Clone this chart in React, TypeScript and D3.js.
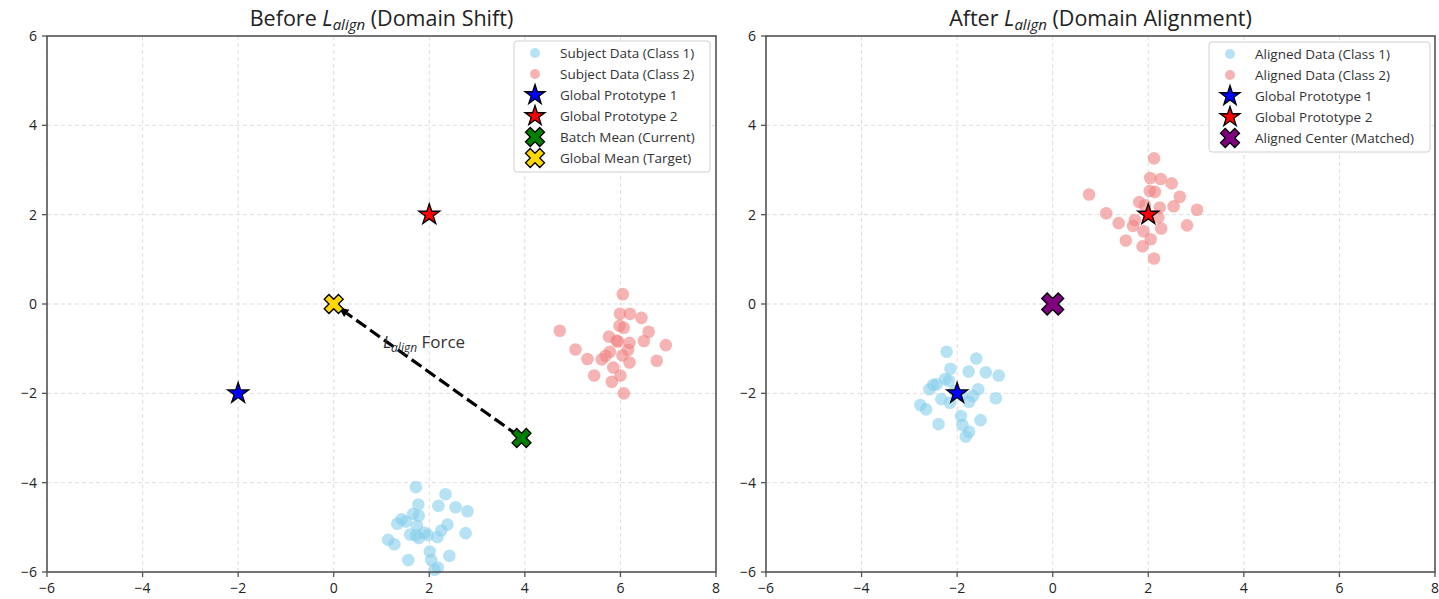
import * as d3 from "d3";

// ---- data ----
const TICKS_X = [-6, -4, -2, 0, 2, 4, 6, 8];
const TICKS_Y = [-6, -4, -2, 0, 2, 4, 6];

const beforeClass1: [number, number][] = [
  [1.72, -4.1], [2.34, -4.26], [1.77, -4.49], [2.19, -4.52], [2.55, -4.55],
  [2.8, -4.64], [1.66, -4.7], [1.78, -4.74], [1.42, -4.82], [1.51, -4.87],
  [1.33, -4.92], [1.74, -4.97], [2.38, -4.94], [2.25, -5.07], [2.76, -5.13],
  [1.6, -5.16], [1.72, -5.18], [1.9, -5.12], [1.97, -5.17], [1.78, -5.24],
  [2.17, -5.22], [1.14, -5.28], [1.27, -5.38], [2.01, -5.54], [2.42, -5.64],
  [1.56, -5.73], [2.04, -5.73], [2.18, -5.9], [2.11, -5.95],
];

const beforeClass2: [number, number][] = [
  [6.05, 0.22], [5.99, -0.22], [6.2, -0.22], [6.44, -0.31], [4.73, -0.6],
  [5.98, -0.49], [6.07, -0.53], [6.59, -0.62], [5.76, -0.73], [5.92, -0.82],
  [5.95, -0.84], [6.19, -0.87], [6.49, -0.83], [6.95, -0.92], [5.06, -1.02],
  [5.78, -1.07], [6.16, -1.03], [6.04, -1.15], [5.69, -1.16], [5.61, -1.24],
  [5.31, -1.23], [6.19, -1.31], [6.76, -1.27], [5.85, -1.42], [5.45, -1.6],
  [6.0, -1.6], [5.82, -1.74], [6.07, -2.0],
];

const afterClass1: [number, number][] = [
  [-2.22, -1.07], [-1.6, -1.22], [-2.14, -1.45], [-1.76, -1.51], [-1.4, -1.53],
  [-1.13, -1.6], [-2.25, -1.68], [-2.17, -1.72], [-2.43, -1.8], [-2.5, -1.81],
  [-2.58, -1.91], [-1.56, -1.91], [-1.67, -2.06], [-2.33, -2.13], [-2.15, -2.21],
  [-1.75, -2.19], [-1.19, -2.11], [-2.77, -2.26], [-2.65, -2.36], [-1.92, -2.51],
  [-1.51, -2.6], [-2.39, -2.69], [-1.89, -2.71], [-1.75, -2.86], [-1.82, -2.97],
  [-2.05, -1.95], [-1.9, -2.05],
];

const afterClass2: [number, number][] = [
  [2.12, 3.26], [2.04, 2.82], [2.26, 2.8], [2.49, 2.7], [0.76, 2.45],
  [2.03, 2.53], [2.14, 2.51], [2.66, 2.4], [1.81, 2.28], [2.53, 2.19],
  [3.02, 2.11], [1.12, 2.03], [2.24, 2.16], [1.93, 2.21], [2.21, 1.94],
  [1.38, 1.81], [1.72, 1.88], [1.68, 1.75], [2.27, 1.69], [2.81, 1.76],
  [1.9, 1.63], [2.05, 1.45], [1.53, 1.42], [1.88, 1.29], [2.12, 1.02],
];

const proto1: [number, number] = [-2, -2];
const proto2: [number, number] = [2, 2];
const batchMean: [number, number] = [3.93, -3.0];
const globalMean: [number, number] = [0, 0];
const alignedCenter: [number, number] = [0, 0];

// ---- styling ----
const FONT = "'Open Sans', 'DejaVu Sans', sans-serif";
const C1 = "#87ceeb";
const C2 = "#f08080";
const FRAME = "#555";
const PT_R = 6.3;

const PANEL = {
  top: 36,
  bottom: 572,
  width: 669,
};

type XY = [number, number];
type Scale = d3.ScaleLinear<number, number>;

const X_PATH: XY[] = [
  [-1, -2], [0, -1], [1, -2], [2, -1], [1, 0], [2, 1],
  [1, 2], [0, 1], [-1, 2], [-2, 1], [-1, 0], [-2, -1],
];

function xMarkerPath(size: number) {
  return (
    "M" + X_PATH.map(([a, b]) => `${(a / 4) * size},${(b / 4) * size}`).join("L") + "Z"
  );
}

function starPath(size: number) {
  const pts: string[] = [];
  const outer = size / 2;
  const inner = outer * 0.381966;
  for (let i = 0; i < 10; i++) {
    const r = i % 2 === 0 ? outer : inner;
    const a = (i * Math.PI) / 5 - Math.PI / 2;
    pts.push(`${r * Math.cos(a)},${r * Math.sin(a)}`);
  }
  return "M" + pts.join("L") + "Z";
}

function Star({ x, y, color, size = 22 }: { x: number; y: number; color: string; size?: number }) {
  return (
    <path
      d={starPath(size)}
      transform={`translate(${x},${y})`}
      fill={color}
      stroke="#000"
      strokeWidth={1.3}
      strokeLinejoin="miter"
    />
  );
}

function XMark({ x, y, color, size = 19 }: { x: number; y: number; color: string; size?: number }) {
  return (
    <path
      d={xMarkerPath(size)}
      transform={`translate(${x},${y})`}
      fill={color}
      stroke="#000"
      strokeWidth={1.3}
    />
  );
}

function fmt(v: number) {
  return v < 0 ? "\u2212" + Math.abs(v) : String(v);
}

function Axes({ xScale, yScale }: { xScale: Scale; yScale: Scale }) {
  const [x0, x1] = xScale.range();
  const [y0, y1] = yScale.range();
  return (
    <g>
      {TICKS_X.map((t) => (
        <line key={"gx" + t} x1={xScale(t)} x2={xScale(t)} y1={y1} y2={y0}
          stroke="#d4d4d4" strokeWidth={0.8} strokeDasharray="4,3" />
      ))}
      {TICKS_Y.map((t) => (
        <line key={"gy" + t} x1={x0} x2={x1} y1={yScale(t)} y2={yScale(t)}
          stroke="#d4d4d4" strokeWidth={0.8} strokeDasharray="4,3" />
      ))}
    </g>
  );
}

function Frame({ xScale, yScale }: { xScale: Scale; yScale: Scale }) {
  const [x0, x1] = xScale.range();
  const [y0, y1] = yScale.range();
  return (
    <g>
      <rect x={x0} y={y1} width={x1 - x0} height={y0 - y1} fill="none" stroke={FRAME} strokeWidth={1.6} />
      {TICKS_X.map((t) => (
        <g key={"tx" + t}>
          <line x1={xScale(t)} x2={xScale(t)} y1={y0} y2={y0 + 5} stroke={FRAME} strokeWidth={1.3} />
          <text x={xScale(t)} y={y0 + 21} fontSize={14} fontFamily={FONT} fill="#222" textAnchor="middle">
            {fmt(t)}
          </text>
        </g>
      ))}
      {TICKS_Y.map((t) => (
        <g key={"ty" + t}>
          <line x1={x0 - 5} x2={x0} y1={yScale(t)} y2={yScale(t)} stroke={FRAME} strokeWidth={1.3} />
          <text x={x0 - 10} y={yScale(t) + 5} fontSize={14} fontFamily={FONT} fill="#222" textAnchor="end">
            {fmt(t)}
          </text>
        </g>
      ))}
    </g>
  );
}

function Title({ x, before, after }: { x: number; before: string; after: string }) {
  return (
    <text x={x} y={26} fontSize={21.5} fontFamily={FONT} fill="#222" textAnchor="middle">
      <tspan>{before} </tspan>
      <tspan fontStyle="italic">L</tspan>
      <tspan fontStyle="italic" fontSize={15} dy={4}>align</tspan>
      <tspan dy={-4}> {after}</tspan>
    </text>
  );
}

type LegendItem = { label: string; kind: "c1" | "c2" | "star" | "x"; color: string };

function Legend({ x, y, w, items }: { x: number; y: number; w: number; items: LegendItem[] }) {
  const rowH = 21;
  const h = items.length * rowH + 5;
  return (
    <g>
      <rect x={x} y={y} width={w} height={h} rx={3} fill="#fff" fillOpacity={0.85} stroke="#d0d0d0" strokeWidth={1} />
      {items.map((it, i) => {
        const cy = y + 12 + i * rowH;
        const mx = x + 21;
        let mark;
        if (it.kind === "c1" || it.kind === "c2") {
          mark = <circle cx={mx} cy={cy} r={5} fill={it.color} fillOpacity={0.6} />;
        } else if (it.kind === "star") {
          mark = <Star x={mx} y={cy} color={it.color} size={21} />;
        } else {
          mark = <XMark x={mx} y={cy} color={it.color} size={19} />;
        }
        return (
          <g key={i}>
            {mark}
            <text x={x + 46} y={cy + 4.5} fontSize={13.5} fontFamily={FONT} fill="#333">
              {it.label}
            </text>
          </g>
        );
      })}
    </g>
  );
}

function Points({ data, color, xScale, yScale }: { data: XY[]; color: string; xScale: Scale; yScale: Scale }) {
  return (
    <g>
      {data.map((d, i) => (
        <circle key={i} cx={xScale(d[0])} cy={yScale(d[1])} r={PT_R} fill={color} fillOpacity={0.6} />
      ))}
    </g>
  );
}

export default function App() {
  const yScale = d3.scaleLinear().domain([-6, 6]).range([PANEL.bottom, PANEL.top]);
  const xL = d3.scaleLinear().domain([-6, 8]).range([47, 47 + PANEL.width]);
  const xR = d3.scaleLinear().domain([-6, 8]).range([766, 766 + PANEL.width]);

  // arrow from batch mean to global mean
  const ax0 = xL(batchMean[0]);
  const ay0 = yScale(batchMean[1]);
  const ax1 = xL(globalMean[0]);
  const ay1 = yScale(globalMean[1]);
  const len = Math.hypot(ax1 - ax0, ay1 - ay0);
  const ux = (ax1 - ax0) / len;
  const uy = (ay1 - ay0) / len;
  const startX = ax0 + ux * 4;
  const startY = ay0 + uy * 4;
  const tipX = ax1 - ux * 6;
  const tipY = ay1 - uy * 6;
  const headLen = 10;
  const headW = 4.5;
  const baseX = tipX - ux * headLen;
  const baseY = tipY - uy * headLen;

  const textX = xL(1.03);
  const textY = yScale(-0.98);

  return (
    <svg width={1439} height={599} style={{ position: "absolute", left: 0, top: 0, background: "#fff" }}
      xmlns="http://www.w3.org/2000/svg">
      {/* left panel */}
      <Title x={(xL.range()[0] + xL.range()[1]) / 2} before="Before" after="(Domain Shift)" />
      <Axes xScale={xL} yScale={yScale} />
      <Points data={beforeClass1} color={C1} xScale={xL} yScale={yScale} />
      <Points data={beforeClass2} color={C2} xScale={xL} yScale={yScale} />
      <line x1={startX} y1={startY} x2={baseX} y2={baseY} stroke="#000" strokeWidth={3.2} strokeDasharray="12,5" />
      <path
        d={`M${tipX},${tipY}L${baseX - uy * headW},${baseY + ux * headW}L${baseX + uy * headW},${baseY - ux * headW}Z`}
        fill="#000"
      />
      <Star x={xL(proto1[0])} y={yScale(proto1[1])} color="#0000ff" />
      <Star x={xL(proto2[0])} y={yScale(proto2[1])} color="#ff0000" />
      <XMark x={xL(batchMean[0])} y={yScale(batchMean[1])} color="#008000" />
      <XMark x={xL(globalMean[0])} y={yScale(globalMean[1])} color="#ffd700" />
      <text x={textX} y={textY} fontSize={17} fontFamily={FONT} fill="#333">
        <tspan fontStyle="italic">L</tspan>
        <tspan fontStyle="italic" fontSize={12} dy={4}>align</tspan>
        <tspan dy={-4}> Force</tspan>
      </text>
      <Frame xScale={xL} yScale={yScale} />
      <Legend
        x={514}
        y={41}
        w={196}
        items={[
          { label: "Subject Data (Class 1)", kind: "c1", color: C1 },
          { label: "Subject Data (Class 2)", kind: "c2", color: C2 },
          { label: "Global Prototype 1", kind: "star", color: "#0000ff" },
          { label: "Global Prototype 2", kind: "star", color: "#ff0000" },
          { label: "Batch Mean (Current)", kind: "x", color: "#008000" },
          { label: "Global Mean (Target)", kind: "x", color: "#ffd700" },
        ]}
      />

      {/* right panel */}
      <Title x={(xR.range()[0] + xR.range()[1]) / 2} before="After" after="(Domain Alignment)" />
      <Axes xScale={xR} yScale={yScale} />
      <Points data={afterClass1} color={C1} xScale={xR} yScale={yScale} />
      <Points data={afterClass2} color={C2} xScale={xR} yScale={yScale} />
      <Star x={xR(proto1[0])} y={yScale(proto1[1])} color="#0000ff" />
      <Star x={xR(proto2[0])} y={yScale(proto2[1])} color="#ff0000" />
      <XMark x={xR(alignedCenter[0])} y={yScale(alignedCenter[1])} color="#800080" size={22} />
      <Frame xScale={xR} yScale={yScale} />
      <Legend
        x={1209}
        y={42}
        w={221}
        items={[
          { label: "Aligned Data (Class 1)", kind: "c1", color: C1 },
          { label: "Aligned Data (Class 2)", kind: "c2", color: C2 },
          { label: "Global Prototype 1", kind: "star", color: "#0000ff" },
          { label: "Global Prototype 2", kind: "star", color: "#ff0000" },
          { label: "Aligned Center (Matched)", kind: "x", color: "#800080" },
        ]}
      />
    </svg>
  );
}
